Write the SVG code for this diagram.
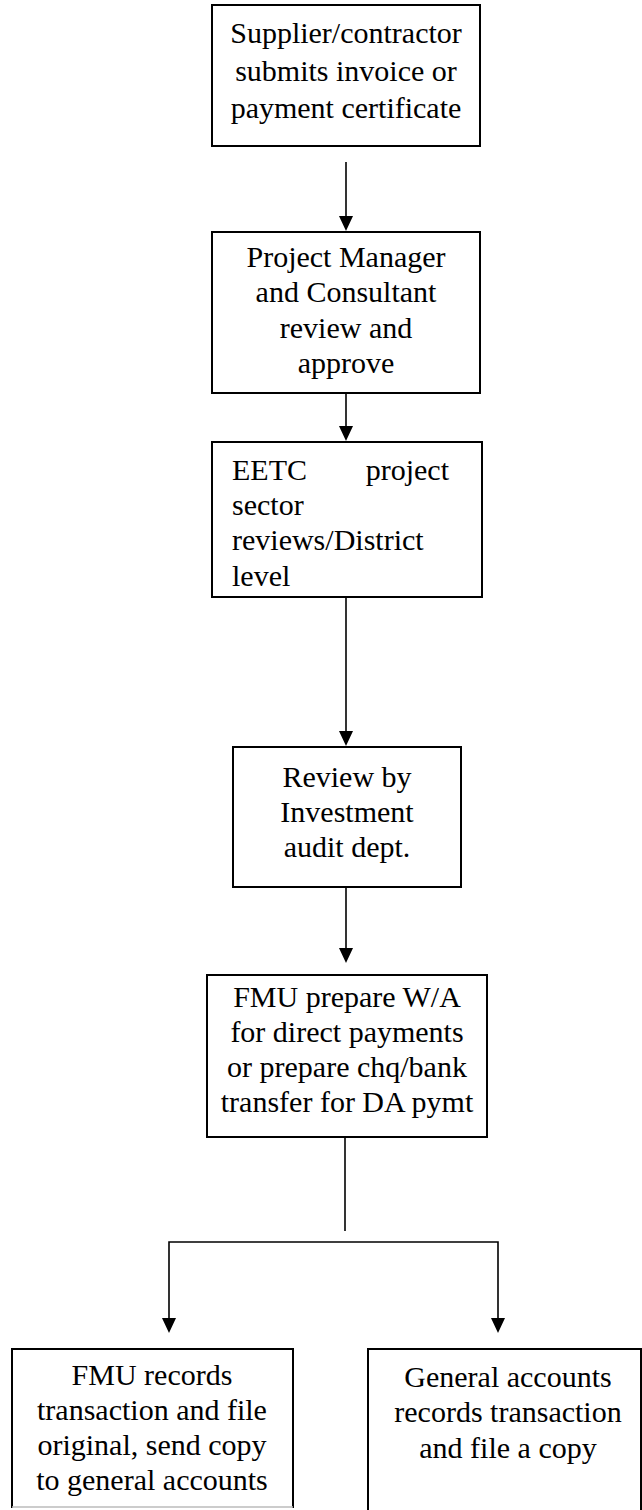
<svg xmlns="http://www.w3.org/2000/svg" width="642" height="1510" viewBox="0 0 642 1510">
<style>
.box{fill:#fff;stroke:#000;stroke-width:2}
.t{font-family:"Liberation Serif","Times New Roman",serif;font-size:30px;fill:#000;text-anchor:middle}
.l{text-anchor:start}
.e{text-anchor:end}
.c{fill:none;stroke:#000;stroke-width:1.6}
</style>
<defs>
<marker id="ah" markerUnits="userSpaceOnUse" markerWidth="14" markerHeight="16" refX="7" refY="15" orient="auto-start-reverse" viewBox="0 0 14 16">
<path d="M0,0 L14,0 L7,15 Z" fill="#000" transform="rotate(0)"/>
</marker>
</defs>
<rect width="642" height="1510" fill="#fff"/>
<g id="connectors">
<path class="c" d="M346,162 V216"/>
<path d="M339,216 L353,216 L346,231 Z"/>
<path class="c" d="M346,393 V426"/>
<path d="M339,426 L353,426 L346,441 Z"/>
<path class="c" d="M346,597 V731"/>
<path d="M339,731 L353,731 L346,746 Z"/>
<path class="c" d="M346,887 V948"/>
<path d="M339,948 L353,948 L346,963 Z"/>
<path class="c" d="M345,1137 V1231"/>
<path class="c" d="M169,1318 V1242 H498 V1318"/>
<path d="M162,1318 L176,1318 L169,1333 Z"/>
<path d="M491,1318 L505,1318 L498,1333 Z"/>
</g>
<g id="n1">
<rect class="box" x="212" y="5" width="268" height="141"/>
<text class="t" x="346" y="43">Supplier/contractor</text>
<text class="t" x="346" y="81">submits invoice or</text>
<text class="t" x="346" y="118">payment certificate</text>
</g>
<g id="n2">
<rect class="box" x="212" y="232" width="268" height="161"/>
<text class="t" x="346" y="267">Project Manager</text>
<text class="t" x="346" y="302">and Consultant</text>
<text class="t" x="346" y="338">review and</text>
<text class="t" x="346" y="373">approve</text>
</g>
<g id="n3">
<rect class="box" x="212" y="442" width="270" height="155"/>
<text class="t l" x="232" y="480">EETC</text>
<text class="t e" x="449" y="480">project</text>
<text class="t l" x="232" y="515">sector</text>
<text class="t l" x="232" y="550">reviews/District</text>
<text class="t l" x="232" y="586">level</text>
</g>
<g id="n4">
<rect class="box" x="233" y="747" width="228" height="140"/>
<text class="t" x="347" y="787">Review by</text>
<text class="t" x="347" y="822">Investment</text>
<text class="t" x="347" y="857">audit dept.</text>
</g>
<g id="n5">
<rect class="box" x="207" y="975" width="280" height="162"/>
<text class="t" x="347" y="1007">FMU prepare W/A</text>
<text class="t" x="347" y="1042">for direct payments</text>
<text class="t" x="347" y="1077">or prepare chq/bank</text>
<text class="t" x="347" y="1112">transfer for DA pymt</text>
</g>
<g id="n6">
<path d="M12,1508 V1349 H293 V1508" fill="#fff" stroke="#000" stroke-width="2"/>
<path d="M12,1507 H293" stroke="#bbb" stroke-width="1.5"/>
<text class="t" x="152" y="1385">FMU records</text>
<text class="t" x="152" y="1420">transaction and file</text>
<text class="t" x="152" y="1455">original, send copy</text>
<text class="t" x="152" y="1490">to general accounts</text>
</g>
<g id="n7">
<path d="M368,1510 V1349 H641 V1510" fill="#fff" stroke="#000" stroke-width="2"/>
<text class="t" x="508" y="1387">General accounts</text>
<text class="t" x="508" y="1422">records transaction</text>
<text class="t" x="508" y="1458">and file a copy</text>
</g>
</svg>
